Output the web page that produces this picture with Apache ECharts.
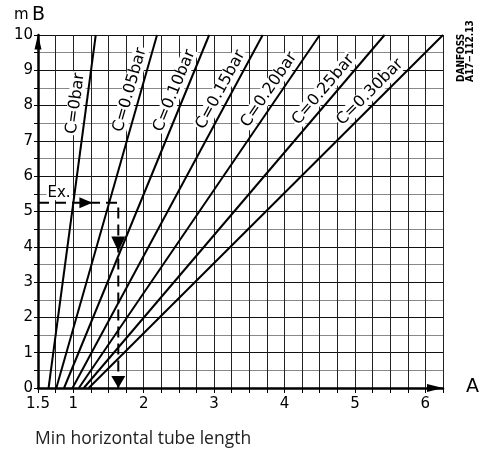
<!DOCTYPE html>
<html>
<head>
<meta charset="utf-8">
<script src="https://cdn.jsdelivr.net/npm/echarts@6/dist/echarts.min.js"></script>
<style>
html, body { margin: 0; padding: 0; background: #fff; }
#main { width: 483px; height: 458px; }
</style>
</head>
<body>
<div id="main"></div>
<script>
// curves: A (x) at 0 mB and at 10 mB for each C value
var curveNames = ['C=0bar', 'C=0.05bar', 'C=0.10bar', 'C=0.15bar', 'C=0.20bar', 'C=0.25bar', 'C=0.30bar'];
var startA = [0.65, 0.76, 0.87, 0.99, 1.08, 1.15, 1.22];
var endA = [1.32, 2.19, 2.93, 3.69, 4.50, 5.42, 6.25];
// example path
var exampleB = 5.25;
var exampleA = 1.64;
var exampleArrowA = 1.18;
var exampleArrowB = [4.08, 0.17];

var font = 'DejaVu Sans';
var chart = echarts.init(document.getElementById('main'));

var series = curveNames.map(function (name, i) {
  return {
    type: 'line',
    name: name,
    data: [[startA[i], 0], [endA[i], 10]],
    symbol: 'none',
    lineStyle: { color: '#000', width: 2 },
    z: 3,
    silent: true
  };
});

// dashed example line
series.push({
  type: 'line',
  data: [[0.5, exampleB], [exampleA, exampleB], [exampleA, 0]],
  symbol: 'none',
  lineStyle: { color: '#000', width: 2, type: [11, 6] },
  z: 4,
  silent: true
});
// arrow heads
series.push({
  type: 'scatter',
  data: [
    { value: [exampleArrowA, exampleB], symbolRotate: -90, symbolSize: [11, 13] },
    { value: [exampleA, exampleArrowB[0]], symbolRotate: 180, symbolSize: [14, 15] },
    { value: [exampleA, exampleArrowB[1]], symbolRotate: 180, symbolSize: [14, 12] }
  ],
  symbol: 'triangle',
  itemStyle: { color: '#000', opacity: 1 },
  z: 5,
  silent: true
});

chart.setOption({
  animation: false,
  backgroundColor: '#fff',
  grid: { left: 38, right: 40, top: 35, bottom: 70 },
  xAxis: {
    type: 'value',
    min: 0.5,
    max: 6.25,
    interval: 0.25,
    axisLine: {
      show: true, onZero: false,
      lineStyle: { color: '#000', width: 2.5 },
      symbol: ['none', 'triangle'], symbolSize: [8, 16], symbolOffset: [0, -8]
    },
    axisTick: { show: true, length: 5, lineStyle: { color: '#000', width: 1 } },
    axisLabel: {
      color: '#000', fontFamily: font, fontSize: 15, margin: 9,
      formatter: function (v) {
        if (v === 0.5) return '1.5';
        return v % 1 === 0 ? String(v) : '';
      }
    },
    splitLine: { show: true, lineStyle: { color: '#222', width: 1 } }
  },
  yAxis: {
    type: 'value',
    min: 0,
    max: 10,
    interval: 0.5,
    axisLine: {
      show: true, onZero: false,
      lineStyle: { color: '#000', width: 2.5 },
      symbol: ['none', 'triangle'], symbolSize: [7, 15], symbolOffset: [0, -7]
    },
    axisTick: { show: true, length: 4, lineStyle: { color: '#000', width: 1 } },
    axisLabel: {
      color: '#000', fontFamily: font, fontSize: 15, margin: 5,
      formatter: function (v) { return v % 1 === 0 ? String(v) : ''; }
    },
    splitLine: { show: true, lineStyle: { color: ['#111', '#888'], width: 1 } }
  },
  series: series
});

// rotated curve labels, placed beside each line
var labelY = [105, 93, 95, 95, 96, 97, 100];
var graphics = [];
curveNames.forEach(function (name, i) {
  var p0 = chart.convertToPixel({ gridIndex: 0 }, [startA[i], 0]);
  var p1 = chart.convertToPixel({ gridIndex: 0 }, [endA[i], 10]);
  var dx = p1[0] - p0[0], dy = p1[1] - p0[1];
  var len = Math.sqrt(dx * dx + dy * dy);
  var t = (labelY[i] - p0[1]) / dy;
  var px = p0[0] + t * dx, py = p0[1] + t * dy;
  var nx = dy / len, ny = -dx / len;
  graphics.push({
    type: 'text',
    x: px + nx * 11,
    y: py + ny * 11,
    rotation: Math.atan2(-dy, dx),
    z: 10,
    style: {
      text: name, fill: '#000', font: '16px "' + font + '"',
      align: 'center', verticalAlign: 'middle',
      backgroundColor: '#fff', padding: [0, 1]
    }
  });
});

var ex = chart.convertToPixel({ gridIndex: 0 }, [0.5, exampleB]);
graphics.push({
  type: 'text', x: ex[0] + 21, y: ex[1] - 10, z: 10,
  style: {
    text: 'Ex.', fill: '#000', font: '15px "' + font + '"',
    align: 'center', verticalAlign: 'middle', backgroundColor: '#fff', padding: [0, 1]
  }
});
graphics.push({
  type: 'text', x: 14, y: 25,
  style: {
    text: '{m|m} {b|B}', verticalAlign: 'bottom',
    rich: {
      m: { font: '15px "' + font + '"', fill: '#000' },
      b: { font: '19px "' + font + '"', fill: '#000' }
    }
  }
});
graphics.push({
  type: 'text', x: 466, y: 387,
  style: { text: 'A', fill: '#000', font: '19px "' + font + '"', verticalAlign: 'middle' }
});
graphics.push({
  type: 'text', x: 461, y: 82, rotation: Math.PI / 2,
  style: { text: 'DANFOSS', fill: '#000', font: 'bold 10px "DejaVu Sans Condensed"', verticalAlign: 'middle' }
});
graphics.push({
  type: 'text', x: 470, y: 82, rotation: Math.PI / 2,
  style: { text: 'A17\u2212112.13', fill: '#000', font: 'bold 10px "DejaVu Sans Condensed"', verticalAlign: 'middle' }
});
graphics.push({
  type: 'text', x: 35, y: 439,
  style: { text: 'Min horizontal tube length', fill: '#222', font: '17.5px "Open Sans"', verticalAlign: 'middle' }
});

chart.setOption({ graphic: graphics });
</script>
</body>
</html>
